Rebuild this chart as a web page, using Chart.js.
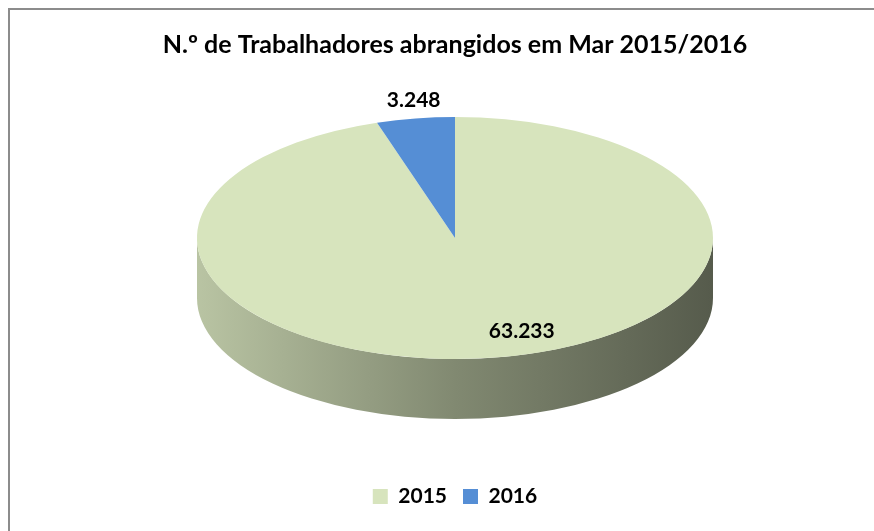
<!DOCTYPE html>
<html>
<head>
<meta charset="utf-8">
<script src="https://cdn.jsdelivr.net/npm/chart.js@4.4.0/dist/chart.umd.min.js"></script>
<style>
    html, body { margin: 0; padding: 0; background: #fff; overflow: hidden; }
    #frame { position: absolute; left: 8px; top: 8px; width: 900px; height: 540px;
             border-left: 2px solid #8c8c8c; border-top: 2px solid #8c8c8c; }
    #wrap { position: absolute; left: 0; top: 0; width: 890px; height: 521px; }
</style>
</head>
<body>
<div id="frame"><div id="wrap"><canvas id="pieChart"></canvas></div></div>
<script>
const years = ['2015', '2016'];
const workers = [63233, 3248];
const sliceColors = ['#D7E4BD', '#558ED5'];

// darken a hex colour by factor f (0..1)
function shade(hex, f) {
    const n = parseInt(hex.slice(1), 16);
    const r = Math.round(((n >> 16) & 255) * f);
    const g = Math.round(((n >> 8) & 255) * f);
    const b = Math.round((n & 255) * f);
    return `rgb(${r},${g},${b})`;
}

const fmt = v => String(v).replace(/\B(?=(\d{3})+(?!\d))/g, '.');

// squashes the pie into an ellipse and draws the cylinder side under it
const tiltPie = {
    id: 'tiltPie',
    beforeDatasetsDraw(chart, args, opts) {
        const ctx = chart.ctx;
        const arcs = chart.getDatasetMeta(0).data;
        const R = arcs[0].outerRadius;
        const cx = arcs[0].x, cy = opts.cy;
        const rx = opts.rx, ry = opts.ry, d = opts.depth;

        arcs.forEach((arc, i) => {
            [[0, Math.PI], [2 * Math.PI, 3 * Math.PI]].forEach(([a, b]) => {
                const s = Math.max(arc.startAngle, a), e = Math.min(arc.endAngle, b);
                if (e <= s) return;
                const col = sliceColors[i];
                const grad = ctx.createLinearGradient(cx - rx, 0, cx + rx, 0);
                grad.addColorStop(0, shade(col, 0.86));
                grad.addColorStop(0.5, shade(col, 0.6));
                grad.addColorStop(1, shade(col, 0.4));
                ctx.beginPath();
                ctx.ellipse(cx, cy, rx, ry, 0, s, e);
                ctx.ellipse(cx, cy + d, rx, ry, 0, e, s, true);
                ctx.closePath();
                ctx.fillStyle = grad;
                ctx.fill();
            });
        });

        ctx.save();
        ctx.translate(cx, cy);
        ctx.scale(rx / R, ry / R);
        ctx.translate(-arcs[0].x, -arcs[0].y);
    },
    afterDatasetsDraw(chart, args, opts) {
        const ctx = chart.ctx;
        ctx.restore();
        const arcs = chart.getDatasetMeta(0).data;
        const cx = arcs[0].x, cy = opts.cy;
        ctx.save();
        ctx.font = 'bold 21px Lato';
        ctx.fillStyle = '#000';
        ctx.textAlign = 'center';
        ctx.textBaseline = 'middle';
        arcs.forEach((arc, i) => {
            const mid = (arc.startAngle + arc.endAngle) / 2;
            const f = opts.labelRadius[i];
            const x = cx + Math.cos(mid) * opts.rx * f + opts.labelShift[i];
            const y = cy + Math.sin(mid) * opts.ry * f;
            ctx.fillText(fmt(workers[i]), x, y);
        });
        ctx.restore();
    }
};

document.addEventListener('DOMContentLoaded', () => {
    const ctx = document.getElementById('pieChart');

    new Chart(ctx, {
        type: 'pie',
        data: {
            labels: years,
            datasets: [{
                data: workers,
                backgroundColor: sliceColors,
                borderWidth: 0
            }]
        },
        options: {
            responsive: true,
            maintainAspectRatio: false,
            animation: false,
            events: [],
            layout: { padding: { bottom: 14 } },
            plugins: {
                title: {
                    display: true,
                    text: 'N.º de Trabalhadores abrangidos em Mar 2015/2016',
                    color: '#000',
                    font: { family: 'Lato', size: 25, weight: 'bold' },
                    padding: { top: 20, bottom: 10 }
                },
                legend: {
                    position: 'bottom',
                    labels: {
                        color: '#000',
                        boxWidth: 15,
                        boxHeight: 15,
                        padding: 16,
                        font: { family: 'Lato', size: 21, weight: 'bold' }
                    }
                },
                tooltip: { enabled: false },
                tiltPie: {
                    cy: 228,
                    rx: 258,
                    ry: 121,
                    depth: 60,
                    labelRadius: [0.78, 1.15],
                    labelShift: [36, 4]
                }
            }
        },
        plugins: [tiltPie]
    });
});
</script>
</body>
</html>
